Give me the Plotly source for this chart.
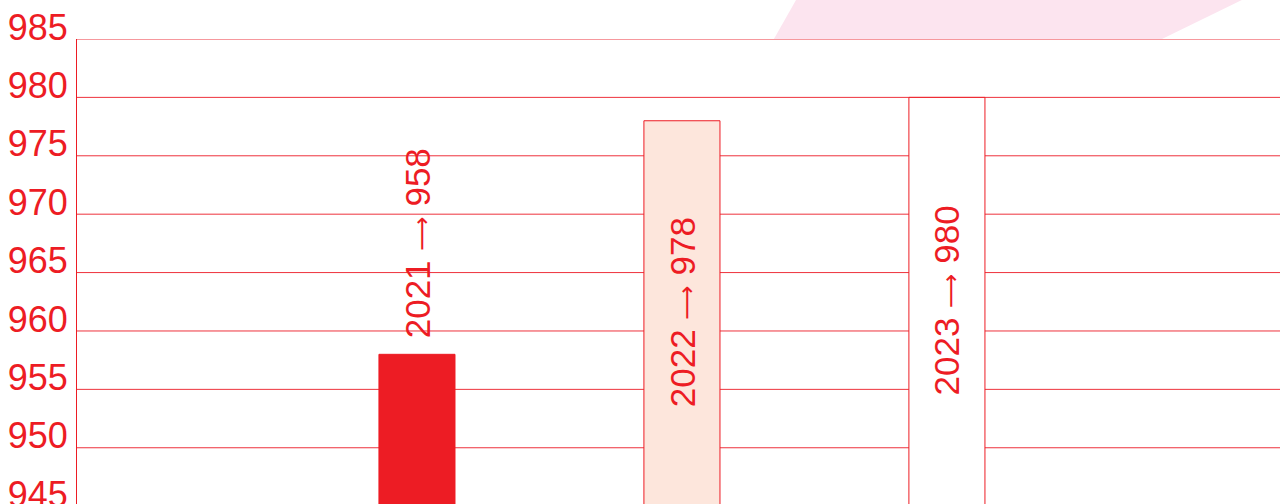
import plotly.graph_objects as go

years = [2021, 2022, 2023]
values = [958, 978, 980]
fills = ["#ED1C24", "#FDE6DC", "#FFFFFF"]
label_inside = [False, True, True]
y_ticks = [945, 950, 955, 960, 965, 970, 975, 980, 985]

RED = "rgb(237,28,36)"
GRID = "rgb(238,50,60)"
FONT = "Liberation Sans, Arial, Helvetica, sans-serif"
ARROW = "<span style='font-family:DejaVu Sans;font-size:24px'>⟶</span>"
y_lo, y_hi = 944.67, 985
y_visible_floor = 945.2

fig = go.Figure()

for t in y_ticks:
    fig.add_hline(y=t, line=dict(color=GRID, width=1), layer="below")

fig.add_trace(go.Bar(
    x=years, y=values, width=0.287,
    marker=dict(color=fills, line=dict(color=RED, width=1)),
    hoverinfo="skip",
))

for yr, v, inside in zip(years, values, label_inside):
    txt = f"{yr} {ARROW} {v}"
    if inside:
        fig.add_annotation(x=yr, y=(y_visible_floor + v) / 2, text=txt, textangle=-90,
                           showarrow=False, xanchor="center", yanchor="middle",
                           font=dict(family=FONT, size=35, color=RED))
    else:
        fig.add_annotation(x=yr, y=v, text=txt, textangle=-90,
                           showarrow=False, xanchor="center", yanchor="bottom",
                           yshift=14, font=dict(family=FONT, size=35, color=RED))

# decorative pink band behind the top of the chart
fig.add_shape(type="path", xref="paper", yref="paper", layer="below",
              path="M 0.5793 1 L 0.5977 1.0828 L 0.9683 1.0828 L 0.9019 1 Z",
              fillcolor="#FCE4EF", line=dict(width=0))

fig.update_layout(
    width=1280, height=510,
    margin=dict(l=77, r=0, t=39, b=0, autoexpand=False),
    paper_bgcolor="white", plot_bgcolor="white",
    showlegend=False,
    xaxis=dict(range=[2021 - 1.283, 2021 + 3.257], showticklabels=False,
               showgrid=False, zeroline=False, showline=False, fixedrange=True,
               automargin=False),
    yaxis=dict(range=[y_lo, y_hi], tickvals=y_ticks, showgrid=False,
               zeroline=False, fixedrange=True,
               showline=True, linecolor=RED, linewidth=1, automargin=False,
               ticks="", ticklabelshift=-12, ticklabelstandoff=1,
               ticklabeloverflow="allow",
               tickfont=dict(family=FONT, size=36, color=RED)),
)

fig.write_html("out.html", config={"displayModeBar": False},
               post_script="document.body.style.margin='0';document.body.style.overflow='hidden';")
